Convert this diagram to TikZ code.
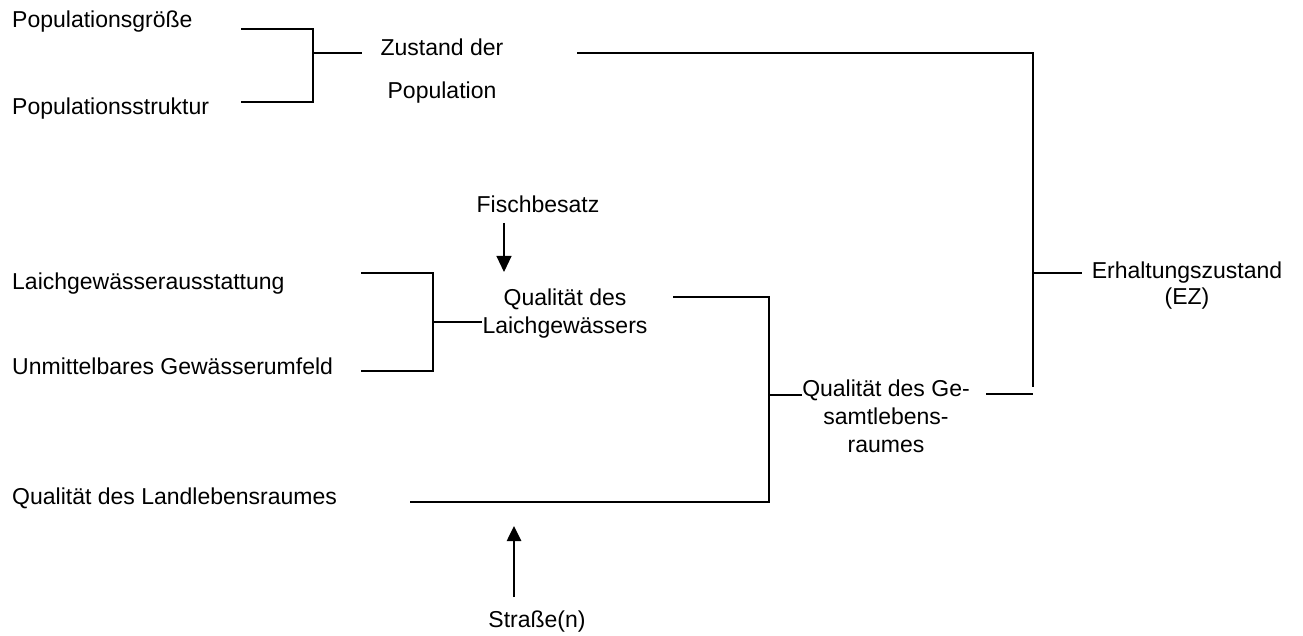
\documentclass[tikz,border=0pt]{standalone}
\usepackage{fontspec}
\setmainfont{Liberation Sans}
\usetikzlibrary{arrows.meta}
\begin{document}
\begin{tikzpicture}[x=1pt,y=-1pt,
  lbl/.style={inner sep=0pt,font=\fontsize{23}{28}\selectfont},
  lft/.style={lbl,anchor=base west},
  % multi-line labels are placed by the baseline of their last line
  ctr/.style={lbl,anchor=base,align=center},
  link/.style={draw=black,line width=1.1pt},
  push/.style={draw=black,line width=1.1pt,-{Triangle[length=16pt,width=15pt]}},
  bigpush/.style={draw=black,line width=2.6pt,-{Triangle[length=15pt,width=14pt]}}]
\path[use as bounding box] (0,0) rectangle (1303,636);

% labels
\node[lft] (pg) at (12,28) {Populationsgröße};
\node[lft] (ps) at (12,115) {Populationsstruktur};
\node[ctr,font=\fontsize{23}{43}\selectfont] (zp) at (442,99) {Zustand der\\Population};
\node[ctr] (fb) at (538,213) {Fischbesatz};
\node[lft] (la) at (12,289) {Laichgewässerausstattung};
\node[lft] (ug) at (12,374) {Unmittelbares Gewässerumfeld};
\node[ctr] (ql) at (565,333) {Qualität des\\Laichgewässers};
\node[ctr] (qg) at (886,452) {Qualität des Ge-\\samtlebens-\\raumes};
\node[ctr,font=\fontsize{23}{27}\selectfont] (ez) at (1187,305) {Erhaltungszustand\\(EZ)};
\node[lft] (qlr) at (12,504) {Qualität des Landlebensraumes};
\node[ctr] (st) at (537,627) {Straße(n)};

% bracket: population
\coordinate (pgE) at (241,29);
\coordinate (psE) at (241,102);
\coordinate (pj) at (313,53);
\draw[link] (pgE) -- (313,29) -- (313,102) -- (psE);
\draw[link] (pj) -- (362,53);

% population state to overall state
\coordinate (zR) at (577,53);
\coordinate (ej) at (1033,273);
\draw[link] (zR) -- (1033,53) -- (1033,387);
\draw[link] (ej) -- (1082,273);

% bracket: spawning water
\coordinate (laE) at (361,273);
\coordinate (ugE) at (361,371);
\draw[link] (laE) -- (433,273) -- (433,371) -- (ugE);
\draw[link] (433,322) -- (ql.west |- 0,322);

% bracket: whole habitat
\coordinate (qlR) at (673,297);
\coordinate (qlrE) at (410,502);
\draw[link] (qlR) -- (769,297) -- (769,502) -- (qlrE);
\draw[link] (769,395) -- (qg.west |- 0,395);
\draw[link] (986,394) -- (1033,394);

% external influences
\draw[push] (504,223) -- (504,272);
\draw[bigpush] (514,597) -- (514,526);
\end{tikzpicture}
\end{document}
